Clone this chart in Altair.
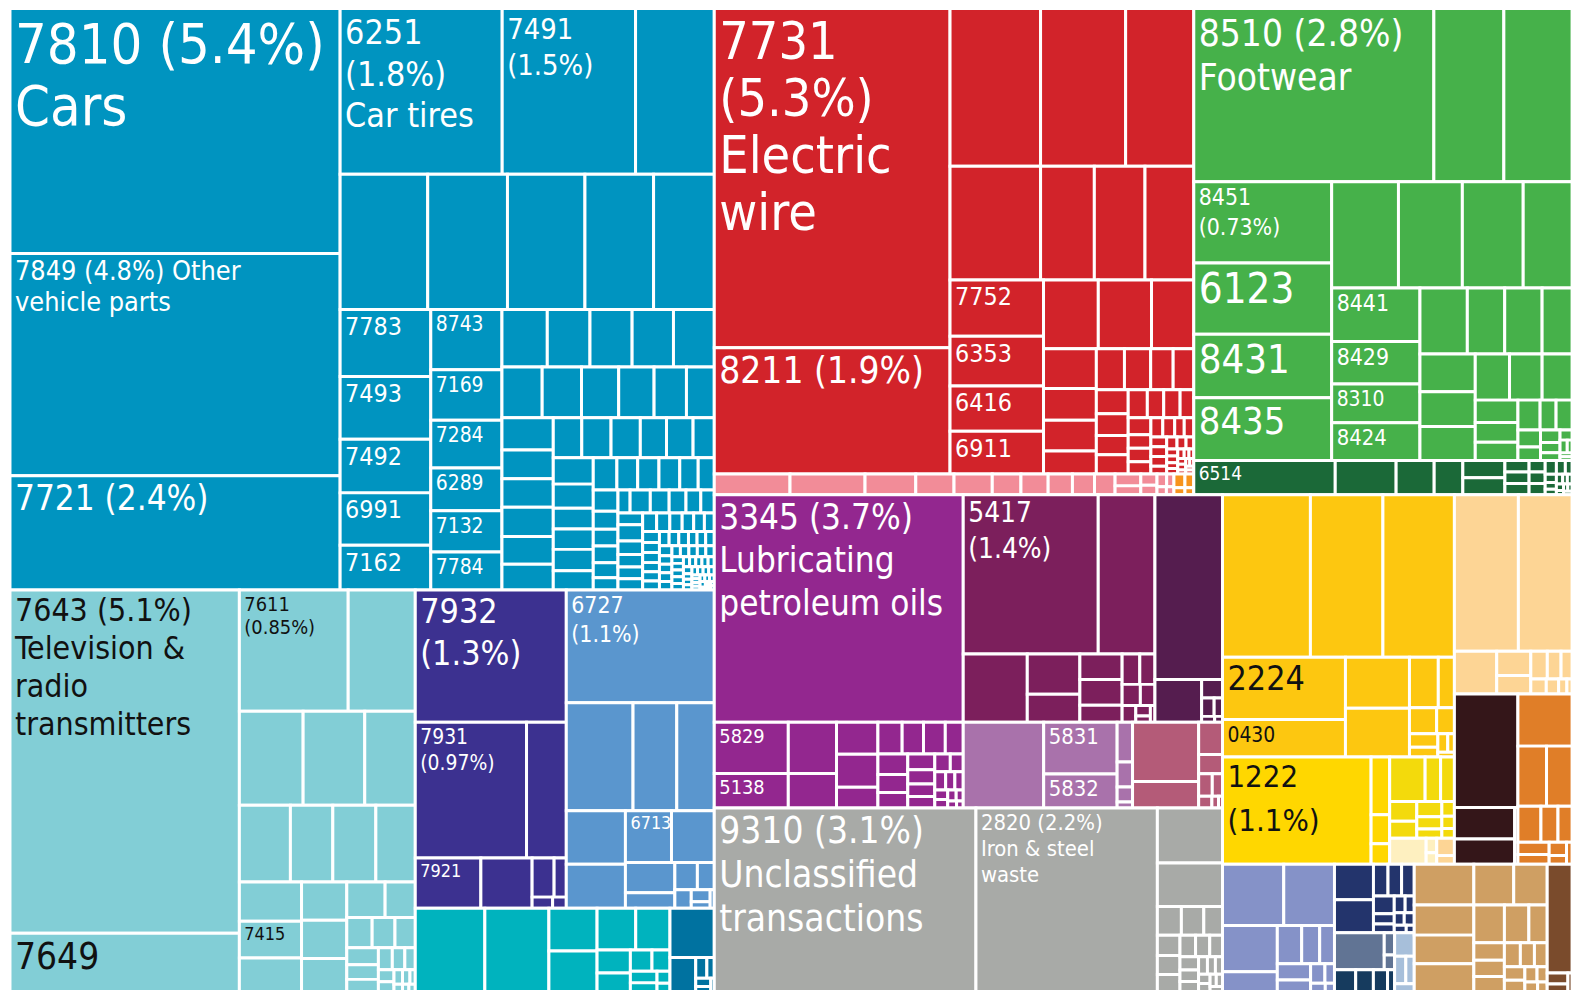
import altair as alt
import pandas as pd

# ---------------- data: export shares (% of total) per product community ----------------
blue = [5.27, 4.78, 2.46, 1.75, 1.44, 0.85, 0.772, 0.703, 0.683, 0.605, 0.535,
        0.396, 0.37, 0.317, 0.31, 0.264, 0.279, 0.235, 0.221, 0.198, 0.191, 0.177,
        0.17, 0.16, 0.158, 0.155, 0.153, 0.133, 0.13, 0.123, 0.117, 0.107, 0.092,
        0.108, 0.096, 0.095, 0.098, 0.093, 0.086, 0.074, 0.076, 0.076, 0.068, 0.069, 0.055,
        0.069, 0.063, 0.054, 0.053, 0.056, 0.05, 0.05, 0.044, 0.045, 0.044, 0.039, 0.034,
        0.034, 0.029, 0.027, 0.027, 0.024, 0.02, 0.018,
        0.03, 0.028, 0.025, 0.022, 0.02, 0.019,
        0.026, 0.022, 0.02, 0.019, 0.018, 0.017, 0.016, 0.015, 0.014, 0.013,
        0.012, 0.012, 0.011, 0.011, 0.01, 0.01, 0.01, 0.009, 0.009, 0.009,
        0.008, 0.008, 0.008, 0.008, 0.007, 0.007, 0.007, 0.007,
        0.006, 0.006, 0.006, 0.006, 0.006, 0.005, 0.005, 0.005, 0.005, 0.005,
        0.004, 0.004, 0.004, 0.004, 0.004, 0.004, 0.003, 0.003, 0.003, 0.003, 0.003, 0.003, 0.003,
        0.002, 0.002, 0.002, 0.002, 0.002, 0.002, 0.002, 0.002,
        0.001, 0.001, 0.001, 0.001, 0.001, 0.001]
lightblue = [5.13, 0.87, 0.86, 0.53, 0.39, 0.377, 0.309, 0.255, 0.212, 0.215, 0.197, 0.159,
             0.149, 0.136, 0.113, 0.113, 0.097, 0.089, 0.07, 0.05, 0.045, 0.04, 0.035, 0.03,
             0.025, 0.02, 0.018, 0.015, 0.012, 0.01, 0.008, 0.007, 0.005, 0.004, 0.003, 0.003]
indigo = [1.3, 0.985, 0.352, 0.215, 0.168, 0.056, 0.031, 0.015, 0.01]
blue2 = [1.086, 0.47, 0.308, 0.264, 0.206, 0.17, 0.155, 0.144, 0.098, 0.05, 0.04, 0.03,
         0.02, 0.015, 0.008, 0.005]
teal = [0.377, 0.347, 0.134, 0.127, 0.105, 0.093, 0.05, 0.04, 0.03, 0.025, 0.02, 0.015, 0.01, 0.007]
darkteal = [0.142, 0.057, 0.015, 0.01, 0.008, 0.005, 0.003]
red = [5.21, 1.94, 0.93, 0.874, 0.70, 0.672, 0.399, 0.376, 0.362, 0.342, 0.303, 0.276, 0.26,
       0.245, 0.238, 0.189, 0.137, 0.109, 0.106, 0.079, 0.075, 0.07, 0.06, 0.055, 0.05, 0.045,
       0.04, 0.04, 0.035, 0.03, 0.03, 0.025, 0.025, 0.02, 0.02, 0.018, 0.015, 0.015, 0.012,
       0.012, 0.01, 0.01, 0.01, 0.008, 0.008, 0.007, 0.006, 0.005, 0.005, 0.004, 0.004, 0.004,
       0.003, 0.003, 0.003, 0.003, 0.002, 0.002, 0.002, 0.002, 0.002]
pink = [0.103, 0.102, 0.069, 0.052, 0.052, 0.039, 0.037, 0.033, 0.03, 0.028, 0.02, 0.015,
        0.012, 0.01, 0.008, 0.006, 0.005, 0.004]
orange_s = [0.01, 0.008, 0.005, 0.004]
green = [2.71, 0.79, 0.77, 0.73, 0.64, 0.57, 0.565, 0.462, 0.442, 0.421, 0.338, 0.308, 0.245,
         0.222, 0.218, 0.204, 0.161, 0.161, 0.129, 0.136, 0.125, 0.123, 0.103, 0.098, 0.09,
         0.062, 0.055, 0.051, 0.043, 0.031, 0.031, 0.025, 0.02, 0.016, 0.013, 0.01, 0.008,
         0.006, 0.004, 0.003, 0.003]
darkgreen = [0.316, 0.136, 0.085, 0.064, 0.047, 0.047, 0.018, 0.018, 0.018, 0.012, 0.012,
             0.012, 0.01, 0.008, 0.006, 0.006, 0.005, 0.004, 0.004, 0.003, 0.003, 0.003,
             0.002, 0.002, 0.002, 0.002]
purple = [3.69, 0.247, 0.166, 0.161, 0.108, 0.086, 0.089, 0.056, 0.05, 0.044, 0.045, 0.037,
          0.04, 0.035, 0.03, 0.028, 0.025, 0.022, 0.02, 0.018, 0.015, 0.013, 0.011, 0.01,
          0.008, 0.007, 0.006, 0.005, 0.004, 0.003]
magenta = [1.4, 0.588, 0.285, 0.138, 0.096, 0.07, 0.071, 0.047, 0.035, 0.03, 0.025, 0.02,
           0.015, 0.01, 0.006, 0.005]
darkpurple = [0.813, 0.13, 0.025, 0.015, 0.01, 0.005, 0.003]
lilac = [0.449, 0.248, 0.162, 0.04, 0.025, 0.015, 0.006]
rose = [0.255, 0.114, 0.05, 0.03, 0.02, 0.015, 0.01, 0.005, 0.003]
gray = [3.13, 2.17, 0.234, 0.184, 0.045, 0.042, 0.035, 0.03, 0.028, 0.025, 0.022, 0.02,
        0.018, 0.016, 0.014, 0.012, 0.01, 0.009, 0.008, 0.007, 0.006, 0.005, 0.005, 0.004]
yellow = [0.93, 0.767, 0.756, 0.5, 0.299, 0.213, 0.203, 0.095, 0.053, 0.046, 0.03, 0.025,
          0.018, 0.012, 0.008, 0.005]
brightyellow = [1.04, 0.07, 0.035, 0.025]
lime = [0.103, 0.045, 0.04, 0.035, 0.03, 0.025, 0.02, 0.015, 0.012, 0.01, 0.008]
cream = [0.062, 0.01, 0.008]
peach_s = [0.02, 0.01]
peach = [0.652, 0.547, 0.118, 0.054, 0.041, 0.03, 0.025, 0.02, 0.015, 0.012, 0.008, 0.005]
darkbrown = [0.47, 0.124, 0.099, 0.012]
orange_f = [0.184, 0.112, 0.1, 0.054, 0.04, 0.033, 0.025, 0.02, 0.015, 0.01, 0.008]
lavender = [0.244, 0.202, 0.165, 0.071, 0.061, 0.045, 0.037, 0.035, 0.025, 0.018, 0.012,
            0.008, 0.005]
navy = [0.09, 0.084, 0.03, 0.028, 0.026, 0.024, 0.014, 0.012, 0.012, 0.01, 0.008, 0.008,
        0.006, 0.004]
slate = [0.12, 0.015, 0.01]
darknavy = [0.03, 0.025, 0.02, 0.01]
steel = [0.03, 0.02, 0.015, 0.01]
tan = [0.158, 0.117, 0.111, 0.108, 0.106, 0.089, 0.075, 0.06, 0.045, 0.035, 0.032, 0.03,
       0.025, 0.022, 0.02, 0.018, 0.015, 0.012, 0.01, 0.008, 0.006]
brown = [0.176, 0.015, 0.01, 0.005]

# community -> (values, colour)
communities = {
    "blue": (blue, "#0094C0"), "lightblue": (lightblue, "#82CED6"),
    "indigo": (indigo, "#3C3190"), "blue2": (blue2, "#5A96CE"),
    "teal": (teal, "#00B3BE"), "darkteal": (darkteal, "#0072A0"),
    "red": (red, "#D2232A"), "pink": (pink, "#F28C98"), "orange_s": (orange_s, "#F7941D"),
    "green": (green, "#46B14A"), "darkgreen": (darkgreen, "#1B6938"),
    "purple": (purple, "#93278F"), "magenta": (magenta, "#7C1F5C"),
    "darkpurple": (darkpurple, "#551D4F"), "lilac": (lilac, "#A972AB"),
    "rose": (rose, "#B45B78"), "gray": (gray, "#A8AAA7"),
    "yellow": (yellow, "#FDC710"), "brightyellow": (brightyellow, "#FFD700"),
    "lime": (lime, "#F3DA0C"), "cream": (cream, "#FEF0C0"), "peach_s": (peach_s, "#FDD595"),
    "peach": (peach, "#FDD595"), "darkbrown": (darkbrown, "#341619"),
    "orange_f": (orange_f, "#E07E28"), "lavender": (lavender, "#8592C8"),
    "navy": (navy, "#23346C"), "slate": (slate, "#617494"), "darknavy": (darknavy, "#163B5E"),
    "steel": (steel, "#A7BFDA"), "tan": (tan, "#CF9F63"), "brown": (brown, "#7A4B2C"),
}

# hierarchy: strings are communities, lists are groups
tree = [
    ["blue"],
    ["lightblue", "indigo", "blue2", "teal", "darkteal"],
    ["red", "pink", "orange_s"],
    ["green", "darkgreen"],
    ["purple", "magenta", "darkpurple", "lilac", "rose"],
    ["gray"],
    [["yellow", "brightyellow", "lime", "cream", "peach_s"],
     ["peach", "darkbrown", "orange_f"],
     ["lavender", "navy", "slate", "darknavy", "steel"],
     ["tan", "brown"]],
]

# label text: (community, item index) -> lines
labels = {
    ("blue", 0): ["7810 (5.4%)", "Cars"],
    ("blue", 1): ["7849 (4.8%) Other", "vehicle parts"],
    ("blue", 2): ["7721 (2.4%)"],
    ("blue", 3): ["6251", "(1.8%)", "Car tires"],
    ("blue", 4): ["7491", "(1.5%)"],
    ("blue", 11): ["7783"], ("blue", 12): ["7493"], ("blue", 13): ["7492"],
    ("blue", 14): ["6991"], ("blue", 15): ["7162"],
    ("blue", 16): ["8743"], ("blue", 17): ["7169"], ("blue", 18): ["7284"],
    ("blue", 19): ["6289"], ("blue", 20): ["7132"], ("blue", 21): ["7784"],
    ("lightblue", 0): ["7643 (5.1%)", "Television &", "radio", "transmitters"],
    ("lightblue", 1): ["7649"], ("lightblue", 2): ["7611", "(0.85%)"],
    ("lightblue", 12): ["7415"],
    ("indigo", 0): ["7932", "(1.3%)"], ("indigo", 1): ["7931", "(0.97%)"],
    ("indigo", 3): ["7921"],
    ("blue2", 0): ["6727", "(1.1%)"], ("blue2", 6): ["6713"],
    ("red", 0): ["7731", "(5.3%)", "Electric", "wire"], ("red", 1): ["8211 (1.9%)"],
    ("red", 9): ["7752"], ("red", 10): ["6353"], ("red", 11): ["6416"], ("red", 12): ["6911"],
    ("green", 0): ["8510 (2.8%)", "Footwear"], ("green", 3): ["8451", "(0.73%)"],
    ("green", 4): ["6123"], ("green", 5): ["8431"], ("green", 6): ["8435"],
    ("green", 11): ["8441"], ("green", 12): ["8429"], ("green", 13): ["8310"],
    ("green", 14): ["8424"],
    ("darkgreen", 0): ["6514"],
    ("purple", 0): ["3345 (3.7%)", "Lubricating", "petroleum oils"],
    ("purple", 1): ["5829"], ("purple", 2): ["5138"],
    ("magenta", 0): ["5417", "(1.4%)"],
    ("lilac", 1): ["5831"], ("lilac", 2): ["5832"],
    ("gray", 0): ["9310 (3.1%)", "Unclassified", "transactions"],
    ("gray", 1): ["2820 (2.2%)", "Iron & steel", "waste"],
    ("yellow", 3): ["2224"], ("yellow", 4): ["0430"],
    ("brightyellow", 0): ["1222", "(1.1%)"],
}

# ---------------- styles (kept apart from the data) ----------------
FONT = "DejaVu Sans Condensed, Liberation Sans Narrow, sans-serif"
label_style = {  # (font size, line height)
    ("blue", 0): (56, 62), ("blue", 1): (27, 31), ("blue", 2): (35, 36),
    ("blue", 3): (34, 42), ("blue", 4): (29, 36),
    ("lightblue", 0): (32, 38), ("lightblue", 1): (37, 37), ("lightblue", 2): (20, 23),
    ("lightblue", 12): (18, 18),
    ("indigo", 0): (34, 42), ("indigo", 1): (21, 26), ("indigo", 3): (18, 18),
    ("blue2", 0): (23, 29), ("blue2", 6): (18, 18),
    ("red", 0): (52, 57), ("red", 1): (37, 37),
    ("green", 0): (37, 44), ("green", 3): (23, 30), ("green", 4): (42, 42),
    ("green", 5): (40, 40), ("green", 6): (38, 38),
    ("green", 11): (23, 23), ("green", 12): (23, 23), ("green", 13): (21, 21),
    ("green", 14): (22, 22),
    ("darkgreen", 0): (19, 19),
    ("purple", 0): (35, 43), ("purple", 1): (20, 20), ("purple", 2): (20, 20),
    ("magenta", 0): (28, 36), ("lilac", 1): (22, 22), ("lilac", 2): (22, 22),
    ("gray", 0): (37, 44), ("gray", 1): (22, 26),
    ("yellow", 3): (34, 34), ("yellow", 4): (21, 21), ("brightyellow", 0): (31, 44),
}
for i in range(11, 16):
    label_style[("blue", i)] = (25, 25)
for i in range(16, 22):
    label_style[("blue", i)] = (21, 21)
for i in range(9, 13):
    label_style[("red", i)] = (25, 25)
dark_text = {"lightblue", "yellow", "brightyellow"}

# ---------------- squarified treemap layout (d3 treemapSquarify, golden ratio) ----------------
PHI = (1 + 5 ** 0.5) / 2


def squarify(values, x0, y0, x1, y1):
    n = len(values)
    out = [None] * n
    value = sum(values)
    i0 = i1 = 0
    while i0 < n:
        dx, dy = x1 - x0, y1 - y0
        s = values[i1]
        i1 += 1
        mn = mx = s
        alpha = max(dy / dx, dx / dy) / (value * PHI)
        beta = s * s * alpha
        min_ratio = max(mx / beta, beta / mn)
        while i1 < n:
            v = values[i1]
            s2 = s + v
            mn2, mx2 = min(mn, v), max(mx, v)
            beta = s2 * s2 * alpha
            r = max(mx2 / beta, beta / mn2)
            if r > min_ratio:
                break
            s, mn, mx, min_ratio = s2, mn2, mx2, r
            i1 += 1
        if dx < dy:
            yb = y0 + dy * s / value if value else y1
            xx = x0
            for i in range(i0, i1):
                w = dx * values[i] / s
                out[i] = (xx, y0, xx + w, yb)
                xx += w
            y0 = yb
        else:
            xb = x0 + dx * s / value if value else x1
            yy = y0
            for i in range(i0, i1):
                h = dy * values[i] / s
                out[i] = (x0, yy, xb, yy + h)
                yy += h
            x0 = xb
        value -= s
        i0 = i1
    return out


def node_value(node):
    if isinstance(node, str):
        return sum(communities[node][0])
    return sum(node_value(c) for c in node)


rects = []


def layout(node, x0, y0, x1, y1):
    if isinstance(node, str):
        vals, col = communities[node]
        for i, b in enumerate(squarify(vals, x0, y0, x1, y1)):
            rects.append(dict(comm=node, idx=i, share=vals[i], x0=b[0], y0=b[1],
                              x1=b[2], y1=b[3], color=col))
        return
    vals = [node_value(c) for c in node]
    for c, b in zip(node, squarify(vals, x0, y0, x1, y1)):
        layout(c, *b)


layout(tree, 10, 6, 1580, 994)
rect_df = pd.DataFrame(rects)

texts = []
for r in rects:
    key = (r["comm"], r["idx"])
    if key in labels:
        fs, lh = label_style[key]
        tc = "#111111" if r["comm"] in dark_text else "#FFFFFF"
        top = max(r["y0"], 8) + 3 + 0.1 * fs
        for k, line in enumerate(labels[key]):
            texts.append(dict(x=r["x0"] + 5, y=top + k * lh, text=line, fs=fs, tc=tc))
text_df = pd.DataFrame(texts)

xs = alt.Scale(domain=[8, 1594], nice=False, zero=False)
ys = alt.Scale(domain=[8, 992], nice=False, zero=False, reverse=True)

boxes = alt.Chart(rect_df).mark_rect(stroke="white", strokeWidth=3).encode(
    x=alt.X("x0:Q", scale=xs, axis=None), x2="x1:Q",
    y=alt.Y("y0:Q", scale=ys, axis=None), y2="y1:Q",
    color=alt.Color("color:N", scale=None),
)
words = alt.Chart(text_df).mark_text(align="left", baseline="top", font=FONT).encode(
    x=alt.X("x:Q", scale=xs, axis=None),
    y=alt.Y("y:Q", scale=ys, axis=None),
    text="text:N",
    size=alt.Size("fs:Q", scale=None),
    color=alt.Color("tc:N", scale=None),
)

chart = alt.layer(boxes, words).properties(
    width=1586, height=984, padding=0, autosize="none"
).configure_view(strokeWidth=0)

chart.save("out.html", embed_options={"renderer": "svg", "actions": False})
